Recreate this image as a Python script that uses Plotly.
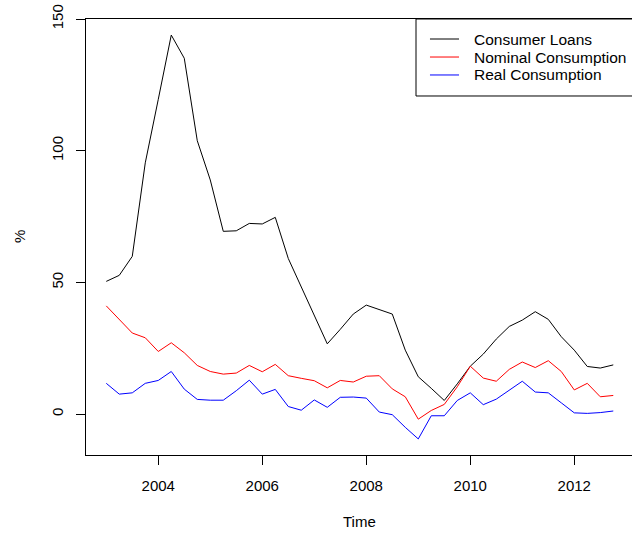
import plotly.graph_objects as go

# Quarterly growth rates (%), 2003 Q1 - 2012 Q4
time = [y + q / 4 for y in range(2003, 2013) for q in range(4)]

consumer_loans = [50.4, 52.7, 59.9, 95.4, 119.5, 143.9, 135.1, 103.8, 88.9, 69.4,
                  69.6, 72.4, 72.2, 74.7, 59.1, 48.3, 37.4, 26.7, 32.2, 38.0,
                  41.4, 39.8, 38.0, 24.3, 14.2, 9.8, 5.2, 11.5, 18.2, 22.8,
                  28.5, 33.3, 35.7, 38.9, 36.0, 29.4, 24.3, 18.1, 17.5, 18.7]

nominal_consumption = [41.1, 36.0, 30.8, 29.0, 23.8, 27.1, 23.3, 18.5, 16.2, 15.2,
                       15.6, 18.5, 16.1, 18.9, 14.6, 13.6, 12.7, 10.0, 12.8, 12.2,
                       14.4, 14.6, 9.6, 6.6, -1.9, 1.4, 3.7, 10.4, 18.2, 13.7,
                       12.5, 17.0, 19.8, 17.7, 20.3, 16.2, 9.2, 11.7, 6.6, 7.1]

real_consumption = [11.7, 7.6, 8.1, 11.7, 12.8, 16.2, 9.5, 5.6, 5.3, 5.3,
                    8.9, 12.9, 7.6, 9.4, 2.9, 1.5, 5.4, 2.6, 6.4, 6.5,
                    6.1, 0.8, -0.2, -5.0, -9.4, -0.6, -0.6, 5.2, 8.1, 3.6,
                    5.7, 9.0, 12.5, 8.4, 8.1, 4.3, 0.5, 0.3, 0.6, 1.2]

series_names = ["Consumer Loans", "Nominal Consumption", "Real Consumption"]
series_colors = ["#000000", "#FF0000", "#0000FF"]
series_values = [consumer_loans, nominal_consumption, real_consumption]

x_ticks = [2004, 2006, 2008, 2010, 2012]
y_ticks = [0, 50, 100, 150]

FONT = "Liberation Sans, Arial, Helvetica, sans-serif"
FS = 15

fig = go.Figure()
for name, color, vals in zip(series_names, series_colors, series_values):
    fig.add_trace(go.Scatter(x=time, y=vals, mode="lines", name=name,
                             line=dict(color=color, width=1), showlegend=False))

axis_common = dict(showgrid=False, zeroline=False, showline=True, linecolor="black",
                   linewidth=1, ticks="outside", ticklen=9, tickcolor="black",
                   tickwidth=1, tickfont=dict(family=FONT, size=FS, color="black"))

fig.update_xaxes(range=[2002.61, 2013.11], tickvals=x_ticks, mirror=True,
                 ticklabelstandoff=8, **axis_common)
fig.update_yaxes(range=[-15.5, 150.0], tickvals=y_ticks, tickangle=-90, mirror=True,
                 ticklabelstandoff=7, **axis_common)

# Legend box in the top-right corner
x0, x_line0, x_line1, x_text = 0.6044, 0.630, 0.6832, 0.7070
row_y = [0.9541, 0.9128, 0.8716]
shapes = [dict(type="rect", xref="paper", yref="paper", x0=x0, x1=1.02, y0=0.8234, y1=1.0,
               line=dict(color="black", width=1), fillcolor="white", layer="above")]
annotations = []
for name, color, yy in zip(series_names, series_colors, row_y):
    shapes.append(dict(type="line", xref="paper", yref="paper", x0=x_line0, x1=x_line1,
                       y0=yy, y1=yy, line=dict(color=color, width=1), layer="above"))
    annotations.append(dict(xref="paper", yref="paper", x=x_text, y=yy, text=name,
                            showarrow=False, xanchor="left", yanchor="middle",
                            font=dict(family=FONT, size=15.5, color="black")))

annotations.append(dict(xref="paper", yref="paper", x=0.5, y=-0.1514, text="Time",
                        showarrow=False, xanchor="center", yanchor="middle",
                        font=dict(family=FONT, size=FS, color="black")))
annotations.append(dict(xref="paper", yref="paper", x=-0.1227, y=0.5, text="%",
                        showarrow=False, xanchor="center", yanchor="middle", textangle=-90,
                        font=dict(family=FONT, size=FS, color="black")))

fig.update_layout(width=632, height=535, margin=dict(l=86, r=0, t=19, b=80),
                  paper_bgcolor="white", plot_bgcolor="white",
                  shapes=shapes, annotations=annotations,
                  font=dict(family=FONT, size=FS, color="black"))

fig.write_html("out.html")
